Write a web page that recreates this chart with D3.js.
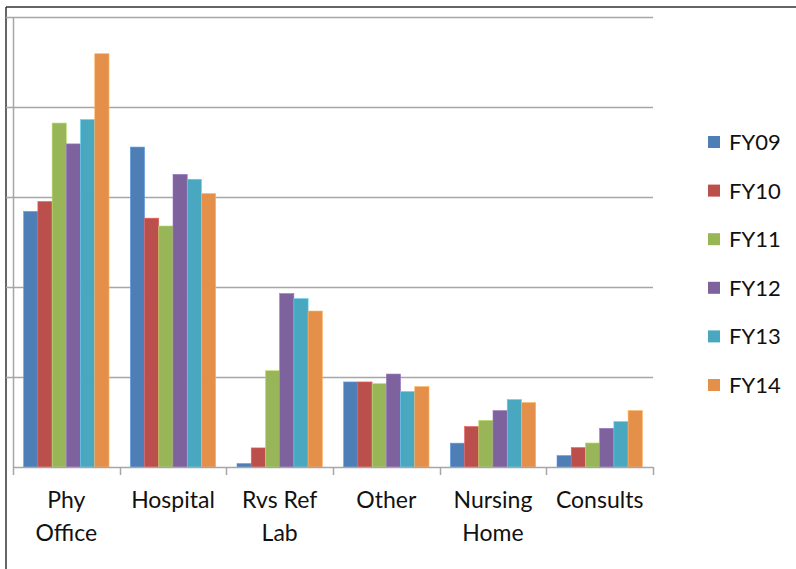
<!DOCTYPE html>
<html>
<head>
<meta charset="utf-8">
<script src="https://cdn.jsdelivr.net/npm/d3@7"></script>
<style>
  html, body { margin: 0; padding: 0; background: #fff; }
  svg { display: block; }
  text { font-family: Lato, "Open Sans", sans-serif; fill: #111; }
</style>
</head>
<body>
<svg id="chart" width="796" height="569"></svg>
<script>
// Visit counts by place of service, fiscal years 09–14
const categories = [["Phy", "Office"], ["Hospital"], ["Rvs Ref", "Lab"], ["Other"], ["Nursing", "Home"], ["Consults"]];
const seriesNames = ["FY09", "FY10", "FY11", "FY12", "FY13", "FY14"];
const FY09 = [2840, 3555, 38, 945, 265, 127];
const FY10 = [2950, 2765, 212, 945, 450, 216];
const FY11 = [3822, 2678, 1070, 927, 519, 267];
const FY12 = [3590, 3252, 1927, 1033, 627, 430];
const FY13 = [3860, 3197, 1871, 838, 749, 504];
const FY14 = [4592, 3038, 1733, 893, 716, 627];
const seriesValues = [FY09, FY10, FY11, FY12, FY13, FY14];
const colors = ["#4D7EB6", "#BB4F4C", "#98B658", "#7D629E", "#4AA7C0", "#E5904A"];
const yTicks = [0, 1000, 2000, 3000, 4000, 5000];

const svg = d3.select("#chart");
const plot = { left: 13, right: 653, top: 17, bottom: 467 };

// Outer chart frame (top and left edges)
svg.append("line").attr("x1", 6).attr("x2", 796).attr("y1", 7).attr("y2", 7)
  .attr("stroke", "#333").attr("stroke-width", 1.5);
svg.append("line").attr("x1", 6).attr("x2", 6).attr("y1", 7).attr("y2", 569)
  .attr("stroke", "#333").attr("stroke-width", 1.5);

const keys = categories.map((c, i) => i);
const x0 = d3.scaleBand().domain(keys).range([plot.left, plot.right]).paddingInner(0).paddingOuter(0);
// 150% gap width: the bar cluster takes 6 of 7.5 bar widths
const bw = x0.bandwidth() / (seriesNames.length + 1.5);
const x1 = d3.scaleBand().domain(seriesNames)
  .range([0.75 * bw, 0.75 * bw + bw * seriesNames.length]).padding(0);
const y = d3.scaleLinear().domain([0, 5000]).range([plot.bottom, plot.top]);

// Horizontal gridlines, extended left as tick marks
svg.append("g").selectAll("line").data(yTicks.slice(1)).join("line")
  .attr("x1", 6).attr("x2", plot.right)
  .attr("y1", d => Math.round(y(d)) + 0.5).attr("y2", d => Math.round(y(d)) + 0.5)
  .attr("stroke", "#a6a6a6").attr("stroke-width", 1.5);

// Vertical axis line
svg.append("line").attr("x1", plot.left + 0.5).attr("x2", plot.left + 0.5)
  .attr("y1", plot.top).attr("y2", plot.bottom)
  .attr("stroke", "#a6a6a6").attr("stroke-width", 1.5);

// Bars
const groups = svg.append("g").selectAll("g").data(keys).join("g")
  .attr("transform", i => `translate(${x0(i)},0)`);
groups.selectAll("rect")
  .data(i => seriesNames.map((s, j) => ({ s, j, v: seriesValues[j][i] })))
  .join("rect")
  .attr("x", d => x1(d.s))
  .attr("width", x1.bandwidth())
  .attr("y", d => y(d.v))
  .attr("height", d => y(0) - y(d.v))
  .attr("fill", d => colors[d.j])
  .attr("stroke", d => d3.color(colors[d.j]).brighter(0.6))
  .attr("stroke-width", 0.6);

// Category axis with ticks between categories
const xAxis = svg.append("g");
xAxis.append("line").attr("x1", plot.left).attr("x2", plot.right)
  .attr("y1", plot.bottom + 0.5).attr("y2", plot.bottom + 0.5)
  .attr("stroke", "#a6a6a6").attr("stroke-width", 1.5);
const boundaries = keys.map(i => x0(i)).concat([plot.right]);
xAxis.selectAll("line.tick").data(boundaries).join("line").attr("class", "tick")
  .attr("x1", d => Math.round(d) + 0.5).attr("x2", d => Math.round(d) + 0.5)
  .attr("y1", plot.bottom).attr("y2", plot.bottom + 8)
  .attr("stroke", "#a6a6a6").attr("stroke-width", 1.5);
xAxis.selectAll("text").data(keys).join("text")
  .attr("x", i => x0(i) + x0.bandwidth() / 2)
  .attr("y", 508)
  .attr("text-anchor", "middle")
  .style("font-size", "23px")
  .selectAll("tspan").data(i => categories[i]).join("tspan")
  .attr("x", function () { return d3.select(this.parentNode).attr("x"); })
  .attr("dy", (d, k) => k === 0 ? 0 : 32.5)
  .text(d => d);

// Legend
const legend = svg.append("g").selectAll("g").data(seriesNames).join("g")
  .attr("transform", (d, j) => `translate(708,${142 + j * 48.6})`);
legend.append("rect").attr("x", 0).attr("y", -6).attr("width", 12).attr("height", 12)
  .attr("fill", (d, j) => colors[j]);
legend.append("text").attr("x", 21).attr("y", 8).style("font-size", "22px").text(d => d);
</script>
</body>
</html>
